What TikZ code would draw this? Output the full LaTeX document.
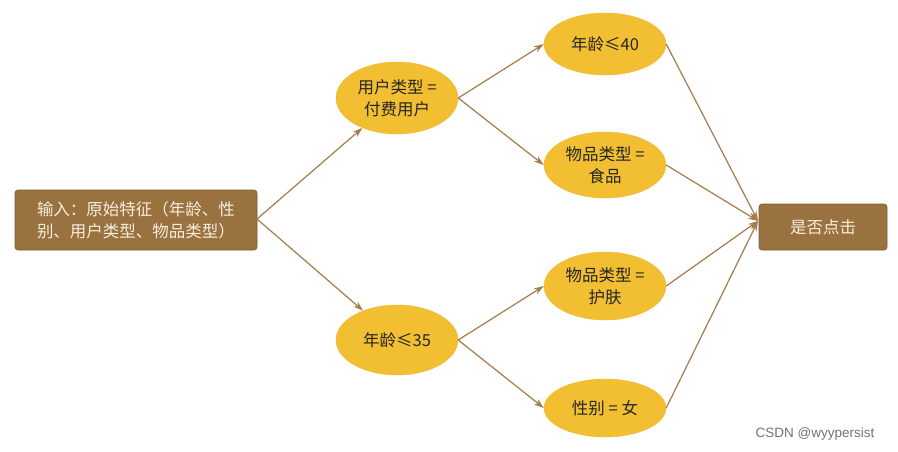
\documentclass[tikz,border=0pt]{standalone}
\usepackage{fontspec}
\setmainfont{Liberation Serif}
\newfontfamily\cjk{Noto Sans CJK SC}
\newfontfamily\wmfont{Liberation Sans}
\usetikzlibrary{shapes.geometric,arrows.meta}
\definecolor{boxbrown}{HTML}{9A7240}
\definecolor{boxtext}{HTML}{F6EEDC}
\definecolor{ellfill}{HTML}{F2BE32}
\definecolor{arrowc}{HTML}{A47C4A}
\begin{document}
\begin{tikzpicture}[x=1pt,y=-1pt,
  brownbox/.style={draw=boxbrown!80!black,line width=0.6pt,fill=boxbrown,rounded corners=3pt,text=boxtext,font=\cjk\fontsize{16.5}{22}\selectfont,align=center,inner sep=0pt},
  gold/.style={ellipse,fill=ellfill,draw=ellfill!90!orange,minimum width=122pt,minimum height=68pt,inner sep=0pt,align=center,font=\cjk\fontsize{16.5}{22}\selectfont,text=black!85},
  conn/.style={draw=arrowc,line width=1.2pt,-{Stealth[length=10pt,width=6.5pt]}}]
\useasboundingbox (0,0) rectangle (898,451);
\fill[white] (0,0) rectangle (898,451);
\node[brownbox,minimum width=242pt,minimum height=60pt] (in) at (136,220) {输入：原始特征（年龄、性\\别、用户类型、物品类型）};
\node[gold,minimum height=72pt] (u) at (397,98) {用户类型 =\\付费用户};
\node[gold,minimum height=70pt] (a35) at (397,340) {年龄≤35};
\node[gold,minimum height=62pt] (a40) at (605,44) {年龄≤40};
\node[gold,minimum height=66pt] (sp) at (605,165) {物品类型 =\\食品};
\node[gold,minimum height=68pt] (hf) at (605,286) {物品类型 =\\护肤};
\node[gold,minimum height=58pt] (nv) at (605,408) {性别 = 女};
\node[brownbox,minimum width=128pt,minimum height=46pt] (out) at (823,227) {是否点击};
\coordinate (inR) at (257,219);
\coordinate (outL) at (758,221);
\draw[conn] (inR) -- (u);
\draw[conn] (inR) -- (a35);
\draw[conn] (u.east) -- (a40.west);
\draw[conn] (u.east) -- (sp.west);
\draw[conn] (a35.east) -- (hf.west);
\draw[conn] (a35.east) -- (nv.west);
\draw[conn] (a40.east) -- (outL);
\draw[conn] (sp.east) -- (outL);
\draw[conn] (hf.east) -- (outL);
\draw[conn] (nv.east) -- (outL);
\node[font=\wmfont\fontsize{13.5}{15}\selectfont,text=black!55] (wm) at (815,434) {CSDN @wyypersist};
\end{tikzpicture}
\end{document}
